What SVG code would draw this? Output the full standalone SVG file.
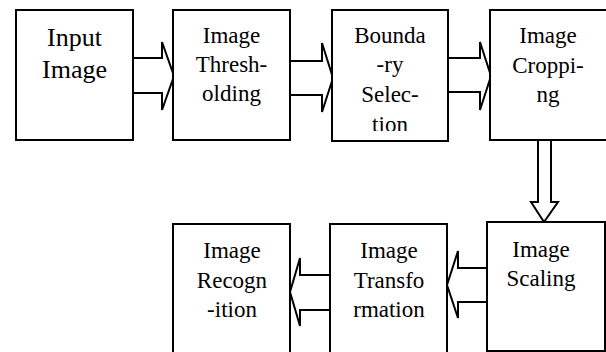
<svg xmlns="http://www.w3.org/2000/svg" width="606" height="352" viewBox="0 0 606 352">
<defs>
<clipPath id="c3"><rect x="332" y="10" width="116" height="121"/></clipPath>
</defs>
<rect width="606" height="352" fill="#fff"/>
<g id="connectors" fill="#fff" stroke="#000" stroke-width="2">
<polygon points="133,58 162,58 162,42 174,76 162,110 162,93 133,93"/>
<polygon points="290,61 322,61 322,43 333,78 322,112 322,95 290,95"/>
<polygon points="448,58 480,58 480,42 491,76 480,110 480,92 448,92"/>
<polygon points="538,140 538,202 531,202 544,222 558,202 551,202 551,140"/>
<polygon points="487,268 458,268 458,251 447,285 458,318 458,302 487,302"/>
<polygon points="330,275 300,275 300,258 290,292 300,326 300,310 330,310"/>
</g>
<g id="nodes" font-family="Liberation Serif" font-size="23" text-anchor="middle" fill="#000">
<g id="input-image">
<rect x="16" y="10" width="117" height="130" fill="#fff" stroke="#000" stroke-width="2"/>
<text x="74.5" y="46" font-size="26">Input</text>
<text x="74.5" y="78" font-size="26">Image</text>
</g>
<g id="image-thresholding">
<rect x="173" y="10" width="117" height="130" fill="#fff" stroke="#000" stroke-width="2"/>
<text x="231.5" y="43">Image</text>
<text x="231.5" y="72">Thresh-</text>
<text x="231.5" y="101">olding</text>
</g>
<g id="boundary-selection">
<rect x="332" y="10" width="116" height="131" fill="#fff" stroke="#000" stroke-width="2"/>
<g clip-path="url(#c3)">
<text x="390" y="43">Bounda</text>
<text x="390" y="72">-ry</text>
<text x="390" y="102">Selec-</text>
<text x="390" y="132">tion</text>
</g>
</g>
<g id="image-cropping">
<rect x="490" y="10" width="120" height="130" fill="#fff" stroke="#000" stroke-width="2"/>
<text x="548" y="43">Image</text>
<text x="548" y="73">Croppi-</text>
<text x="548" y="102">ng</text>
</g>
<g id="image-scaling">
<rect x="487" y="222" width="118" height="129" fill="#fff" stroke="#000" stroke-width="2"/>
<text x="541" y="257">Image</text>
<text x="541" y="286">Scaling</text>
</g>
<g id="image-transformation">
<rect x="330" y="224" width="117" height="135" fill="#fff" stroke="#000" stroke-width="2"/>
<text x="389" y="258">Image</text>
<text x="389" y="288">Transfo</text>
<text x="389" y="317">rmation</text>
</g>
<g id="image-recognition">
<rect x="173" y="224" width="117" height="135" fill="#fff" stroke="#000" stroke-width="2"/>
<text x="232" y="258">Image</text>
<text x="232" y="288">Recogn</text>
<text x="232" y="317">-ition</text>
</g>
</g>
</svg>
